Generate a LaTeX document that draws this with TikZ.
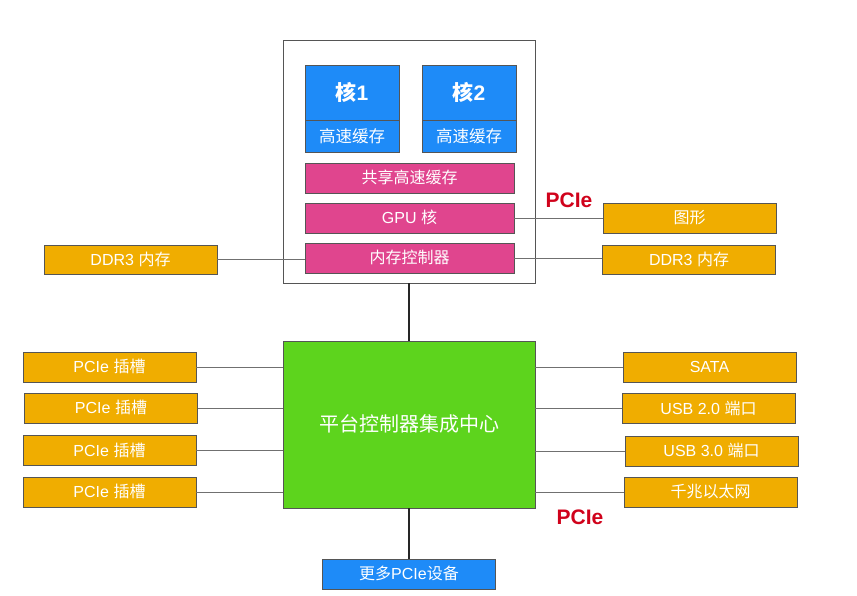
\documentclass[tikz,border=0pt]{standalone}
\usepackage{fontspec}
\setmainfont{Liberation Sans}
\newfontfamily\cjk{Noto Sans CJK SC}
\begin{document}
\definecolor{coreblue}{HTML}{1E8BF8}
\definecolor{cachepink}{HTML}{E0458E}
\definecolor{portorange}{HTML}{F0AD00}
\definecolor{hubgreen}{HTML}{5DD41D}
\definecolor{edgegray}{HTML}{555555}
\definecolor{wiregray}{HTML}{707070}
\definecolor{pcired}{HTML}{D0021B}
\begin{tikzpicture}[x=1pt,y=-1pt,
  blk/.style={draw=edgegray, line width=0.9pt, text=white, inner sep=0pt, anchor=center},
  txt16/.style={font=\fontsize{16}{18}\selectfont, text height=13.9pt, text depth=2.1pt},
  corebox/.style={blk, fill=coreblue},
  pinkbox/.style={blk, txt16, fill=cachepink, minimum width=209pt, minimum height=30pt},
  portbox/.style={blk, txt16, fill=portorange, minimum width=173pt, minimum height=30pt},
  corelabel/.style={font=\bfseries\fontsize{21}{24}\selectfont, text height=18.3pt, text depth=2.7pt},
  cachelabel/.style={font=\fontsize{16.5}{18}\selectfont, text height=14.4pt, text depth=2.1pt},
  wire/.style={draw=wiregray, line width=0.8pt},
  trunk/.style={draw=black!85, line width=1.6pt},
  buslabel/.style={text=pcired, font=\bfseries\fontsize{21}{24}\selectfont, inner sep=0pt}]
\useasboundingbox (0,0) rectangle (857,595);

% processor package
\node[draw=edgegray, line width=0.8pt, fill=white, minimum width=252pt, minimum height=243pt, inner sep=0pt] (cpu) at (409,161.5) {};

% two cores, each with its own cache
\node[corebox, corelabel, minimum width=94pt, minimum height=55pt] (core1) at (352,92.5) {{\cjk 核}1};
\node[corebox, cachelabel, minimum width=94pt, minimum height=32pt] (cache1) at (352,136) {\cjk 高速缓存};
\node[corebox, corelabel, minimum width=94pt, minimum height=55pt] (core2) at (469,92.5) {{\cjk 核}2};
\node[corebox, cachelabel, minimum width=94pt, minimum height=32pt] (cache2) at (469,136) {\cjk 高速缓存};

% shared blocks
\node[pinkbox] (shared) at (409.5,178) {\cjk 共享高速缓存};
\node[pinkbox] (gpu) at (409.5,218) {GPU {\cjk 核}};
\node[pinkbox] (memctl) at (409.5,258) {\cjk 内存控制器};

% devices attached to the processor
\node[portbox] (graphics) at (689.5,218) {\cjk 图形};
\node[portbox, minimum height=29pt] (ddrR) at (689,259.5) {DDR3 {\cjk 内存}};
\node[portbox, minimum height=29pt] (ddrL) at (130.5,259.5) {DDR3 {\cjk 内存}};

% platform controller hub
\node[blk, fill=hubgreen, minimum width=252pt, minimum height=167pt, font=\fontsize{20}{22}\selectfont, text height=17.4pt, text depth=2.6pt] (pch) at (409,424.5) {\cjk 平台控制器集成中心};

% expansion slots on the left
\node[portbox] (slot1) at (109.5,367) {PCIe {\cjk 插槽}};
\node[portbox] (slot2) at (111,408) {PCIe {\cjk 插槽}};
\node[portbox] (slot3) at (109.5,450.5) {PCIe {\cjk 插槽}};
\node[portbox] (slot4) at (109.5,492) {PCIe {\cjk 插槽}};

% I/O on the right
\node[portbox] (sata) at (709.5,367) {SATA};
\node[portbox] (usb2) at (708.5,408.5) {USB 2.0 {\cjk 端口}};
\node[portbox] (usb3) at (711.5,451) {USB 3.0 {\cjk 端口}};
\node[portbox] (gbe) at (710.5,492) {\cjk 千兆以太网};

% further devices below the hub
\node[blk, txt16, fill=coreblue, minimum width=173pt, minimum height=30pt] (more) at (409,574) {{\cjk 更多}PCIe{\cjk 设备}};

% links
\draw[wire] (ddrL.east) -- (ddrL.east -| memctl.west);
\draw[wire] (memctl.east) -- (memctl.east -| ddrR.west);
\draw[wire] (gpu.east) -- (gpu.east -| graphics.west);
\draw[trunk] (cpu.south) -- (pch.north);
\draw[trunk] (pch.south) -- (more.north);
\foreach \s in {slot1,slot2,slot3,slot4}
  \draw[wire] (\s.east) -- (\s.east -| pch.west);
\foreach \d in {sata,usb2,usb3,gbe}
  \draw[wire] (\d.west -| pch.east) -- (\d.west);

% bus labels
\node[buslabel] (pcieTop) at (569,200) {PCIe};
\node[buslabel] (pcieBottom) at (580,517) {PCIe};
\end{tikzpicture}
\end{document}
